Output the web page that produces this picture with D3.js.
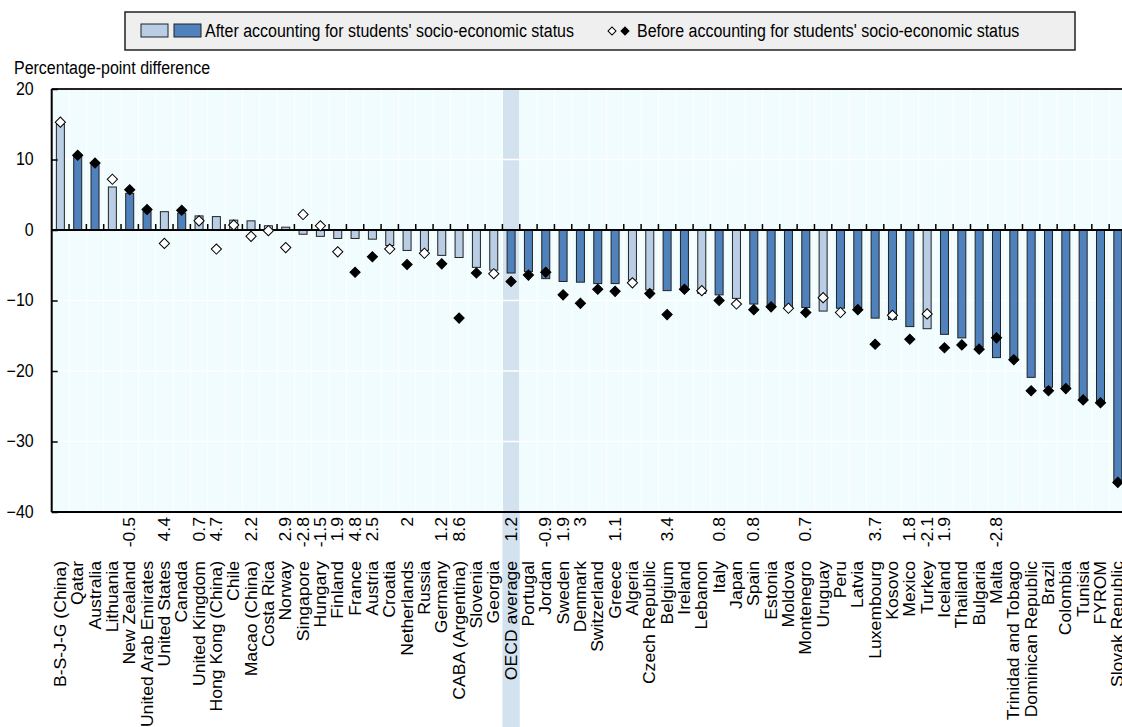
<!DOCTYPE html>
<html>
<head>
<meta charset="utf-8">
<script src="https://cdn.jsdelivr.net/npm/d3@7"></script>
<style>
  body { margin: 0; background: #fff; }
  svg { display: block; font-family: "Liberation Sans", Arial, sans-serif; }
</style>
</head>
<body>
<svg id="chart" width="1122" height="727"></svg>
<script>
// categories, left to right
const categories = ["B-S-J-G (China)", "Qatar", "Australia", "Lithuania", "New Zealand", "United Arab Emirates",
  "United States", "Canada", "United Kingdom", "Hong Kong (China)", "Chile", "Macao (China)", "Costa Rica",
  "Norway", "Singapore", "Hungary", "Finland", "France", "Austria", "Croatia", "Netherlands", "Russia",
  "Germany", "CABA (Argentina)", "Slovenia", "Georgia", "OECD average", "Portugal", "Jordan", "Sweden",
  "Denmark", "Switzerland", "Greece", "Algeria", "Czech Republic", "Belgium", "Ireland", "Lebanon", "Italy",
  "Japan", "Spain", "Estonia", "Moldova", "Montenegro", "Uruguay", "Peru", "Latvia", "Luxembourg", "Kosovo",
  "Mexico", "Turkey", "Iceland", "Thailand", "Bulgaria", "Malta", "Trinidad and Tobago", "Dominican Republic",
  "Brazil", "Colombia", "Tunisia", "FYROM", "Slovak Republic"];

// bars: after accounting for socio-economic status
const afterValues = [15.0, 10.5, 9.4, 6.1, 5.2, 2.6, 2.6, 2.4, 2.0, 1.9, 1.4, 1.3, 0.6, 0.4, -0.6, -0.9, -1.2,
  -1.2, -1.3, -2.2, -2.9, -2.9, -3.6, -3.9, -5.3, -5.7, -6.1, -5.9, -6.9, -7.3, -7.4, -7.6, -7.6, -7.1, -8.5,
  -8.6, -8.1, -9.0, -9.2, -9.7, -10.5, -10.9, -11.1, -11.0, -11.5, -11.1, -11.0, -12.5, -12.7, -13.7, -14.0,
  -14.8, -15.3, -16.6, -18.1, -18.2, -20.9, -22.3, -22.3, -23.9, -24.6, -35.9];
// 1 = statistically significant (dark bar)
const afterSignificant = [0, 1, 1, 0, 1, 1, 0, 1, 0, 0, 0, 0, 0, 0, 0, 0, 0, 0, 0, 0, 0, 0, 0, 0, 0, 0, 1, 1, 1,
  1, 1, 1, 1, 0, 0, 1, 1, 0, 1, 0, 1, 1, 1, 1, 0, 1, 1, 1, 1, 1, 0, 1, 1, 1, 1, 1, 1, 1, 1, 1, 1, 1];

// markers: before accounting for socio-economic status
const beforeValues = [15.3, 10.6, 9.5, 7.2, 5.7, 2.9, -1.9, 2.8, 1.3, -2.7, 0.7, -0.9, -0.1, -2.5, 2.2, 0.6,
  -3.1, -6.0, -3.8, -2.7, -4.9, -3.3, -4.8, -12.5, -6.1, -6.2, -7.3, -6.4, -6.0, -9.2, -10.4, -8.4, -8.7, -7.5,
  -9.0, -12.0, -8.4, -8.6, -10.0, -10.5, -11.3, -10.9, -11.1, -11.7, -9.6, -11.7, -11.3, -16.2, -12.1, -15.5,
  -11.9, -16.7, -16.3, -16.9, -15.3, -18.4, -22.8, -22.8, -22.5, -24.1, -24.5, -35.8];
// 1 = statistically significant (black diamond)
const beforeSignificant = [0, 1, 1, 0, 1, 1, 0, 1, 0, 0, 0, 0, 0, 0, 0, 0, 0, 1, 1, 0, 1, 0, 1, 1, 1, 0, 1, 1, 1,
  1, 1, 1, 1, 0, 1, 1, 1, 0, 1, 0, 1, 1, 0, 1, 0, 0, 1, 1, 0, 1, 0, 1, 1, 1, 1, 1, 1, 1, 1, 1, 1, 1];

// change labels printed under the axis
const changeLabels = ["", "", "", "", "-0.5", "", "4.4", "", "0.7", "4.7", "", "2.2", "", "2.9", "-2.8", "-1.5",
  "1.9", "4.8", "2.5", "", "2", "", "1.2", "8.6", "", "", "1.2", "", "-0.9", "1.9", "3", "", "1.1", "", "",
  "3.4", "", "", "0.8", "", "0.8", "", "", "0.7", "", "", "", "3.7", "", "1.8", "-2.1", "1.9", "", "", "-2.8",
  "", "", "", "", "", "", ""];

const yTicks = [20, 10, 0, -10, -20, -30, -40];

const legendAfter = "After accounting for students' socio-economic status";
const legendBefore = "Before accounting for students' socio-economic status";

// ---------- layout
const svg = d3.select('#chart');
const plot = {left: 51.7, right: 1126.5, top: 89, bottom: 512};
const stretch = 1.1;   // the original text is a bit taller than wide

const darkBlue = '#4f81bd', lightBlue = '#b9cde5';

const xScale = d3.scaleBand()
  .domain(categories)
  .range([plot.left, plot.right])
  .padding(0);

const yScale = d3.scaleLinear()
  .domain([-40, 20])
  .range([plot.bottom, plot.top]);

const rows = categories.map((c, i) => ({
  name: c,
  after: afterValues[i], afterSig: afterSignificant[i],
  before: beforeValues[i], beforeSig: beforeSignificant[i],
  label: changeLabels[i]
}));

const cx = d => xScale(d.name) + xScale.bandwidth() / 2;

// plot background
svg.append('rect')
  .attr('x', plot.left).attr('y', plot.top)
  .attr('width', plot.right - plot.left).attr('height', plot.bottom - plot.top)
  .attr('fill', '#f0fcfd');

// OECD average highlight band
svg.append('rect')
  .attr('x', xScale('OECD average')).attr('y', plot.top)
  .attr('width', xScale.bandwidth()).attr('height', 727 - plot.top)
  .attr('fill', '#d3e2ef');

// grid lines
svg.append('g').selectAll('line')
  .data(categories.slice(1))
  .join('line')
  .attr('x1', d => xScale(d)).attr('x2', d => xScale(d))
  .attr('y1', plot.top).attr('y2', plot.bottom)
  .attr('stroke', '#fff').attr('stroke-width', 1);

svg.append('g').selectAll('line')
  .data(yTicks.filter(v => v !== 0 && v !== 20 && v !== -40))
  .join('line')
  .attr('x1', plot.left).attr('x2', plot.right)
  .attr('y1', d => yScale(d)).attr('y2', d => yScale(d))
  .attr('stroke', '#fff').attr('stroke-width', 1.5);

// bars
svg.append('g').selectAll('rect')
  .data(rows)
  .join('rect')
  .attr('x', d => cx(d) - 4)
  .attr('width', 8)
  .attr('y', d => yScale(Math.max(0, d.after)))
  .attr('height', d => Math.abs(yScale(d.after) - yScale(0)))
  .attr('fill', d => d.afterSig ? darkBlue : lightBlue)
  .attr('stroke', '#222')
  .attr('stroke-width', 1);

// zero line with category ticks
svg.append('line')
  .attr('x1', plot.left).attr('x2', plot.right)
  .attr('y1', yScale(0)).attr('y2', yScale(0))
  .attr('stroke', '#000').attr('stroke-width', 2);

svg.append('g').selectAll('line')
  .data(categories.slice(1))
  .join('line')
  .attr('x1', d => xScale(d)).attr('x2', d => xScale(d))
  .attr('y1', yScale(0)).attr('y2', yScale(0) - 6)
  .attr('stroke', '#000').attr('stroke-width', 1.5);

// diamonds
const diamond = d3.symbol(d3.symbolSquare, 52);
svg.append('g').selectAll('path')
  .data(rows)
  .join('path')
  .attr('d', diamond)
  .attr('transform', d => `translate(${cx(d)},${yScale(d.before)}) rotate(45)`)
  .attr('fill', d => d.beforeSig ? '#000' : '#fff')
  .attr('stroke', '#000')
  .attr('stroke-width', 1);

// frame: top, left, bottom
svg.append('line')
  .attr('x1', plot.left).attr('x2', plot.right)
  .attr('y1', plot.top).attr('y2', plot.top)
  .attr('stroke', '#222').attr('stroke-width', 2);
svg.append('line')
  .attr('x1', plot.left).attr('x2', plot.right)
  .attr('y1', plot.bottom).attr('y2', plot.bottom)
  .attr('stroke', '#000').attr('stroke-width', 2);
svg.append('line')
  .attr('x1', plot.left).attr('x2', plot.left)
  .attr('y1', plot.top).attr('y2', plot.bottom)
  .attr('stroke', '#000').attr('stroke-width', 2);

// y axis
const yAxis = svg.append('g')
  .attr('transform', `translate(${plot.left},0)`)
  .call(d3.axisLeft(yScale).tickValues(yTicks).tickSize(-6).tickPadding(18));
yAxis.select('.domain').remove();
yAxis.selectAll('line').attr('stroke', '#000').attr('stroke-width', 1.5);
yAxis.selectAll('text')
  .attr('font-size', 16).attr('fill', '#000')
  .attr('font-family', '"Liberation Sans", Arial, sans-serif')
  .attr('dy', '0.3em')
  .attr('transform', `scale(1,${stretch})`);

svg.append('text')
  .attr('transform', `translate(14,74) scale(1,${stretch})`)
  .attr('font-size', 16)
  .text('Percentage-point difference');

// change labels
svg.append('g').selectAll('text')
  .data(rows.filter(d => d.label !== ''))
  .join('text')
  .attr('transform', d => `translate(${cx(d)},517) scale(1,${stretch}) rotate(-90)`)
  .attr('text-anchor', 'end')
  .attr('dy', '0.35em')
  .attr('font-size', 16)
  .text(d => d.label);

// category labels
svg.append('g').selectAll('text')
  .data(rows)
  .join('text')
  .attr('transform', d => `translate(${cx(d)},561) scale(1,${stretch}) rotate(-90)`)
  .attr('text-anchor', 'end')
  .attr('dy', '0.35em')
  .attr('font-size', 16)
  .text(d => d.name);

// legend
const legend = svg.append('g');
legend.append('rect')
  .attr('x', 125).attr('y', 12).attr('width', 950).attr('height', 38)
  .attr('fill', '#efefef').attr('stroke', '#222').attr('stroke-width', 1.5);
legend.append('rect')
  .attr('x', 141).attr('y', 24).attr('width', 27).attr('height', 13)
  .attr('fill', lightBlue).attr('stroke', '#222');
legend.append('rect')
  .attr('x', 174).attr('y', 24).attr('width', 27).attr('height', 13)
  .attr('fill', darkBlue).attr('stroke', '#222');
legend.append('text')
  .attr('transform', `translate(205,37) scale(1,${stretch})`)
  .attr('font-size', 16)
  .text(legendAfter);
legend.append('path')
  .attr('d', d3.symbol(d3.symbolSquare, 32))
  .attr('transform', 'translate(612,31) rotate(45)')
  .attr('fill', '#fff').attr('stroke', '#000');
legend.append('path')
  .attr('d', d3.symbol(d3.symbolSquare, 32))
  .attr('transform', 'translate(625,31) rotate(45)')
  .attr('fill', '#000').attr('stroke', '#000');
legend.append('text')
  .attr('transform', `translate(637,37) scale(1,${stretch})`)
  .attr('font-size', 16)
  .text(legendBefore);
</script>
</body>
</html>
